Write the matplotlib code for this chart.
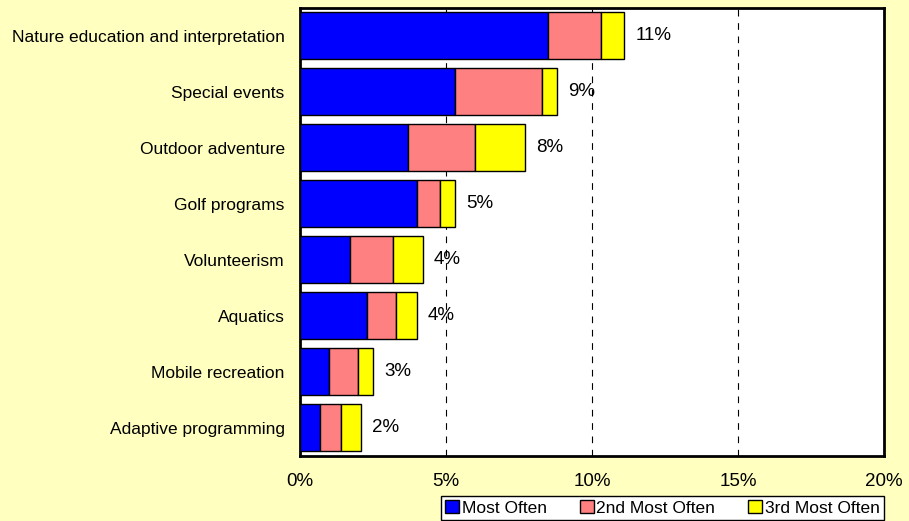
import matplotlib
matplotlib.use('Agg')
import matplotlib.pyplot as plt
import numpy as np
from matplotlib.ticker import FuncFormatter

plt.rcParams["font.family"] = ["Liberation Sans", "DejaVu Sans"]

categories = ['Nature education and interpretation', 'Special events', 'Outdoor adventure',
              'Golf programs', 'Volunteerism', 'Aquatics', 'Mobile recreation',
              'Adaptive programming']
most_often = [8.5, 5.3, 3.7, 4.0, 1.7, 2.3, 1.0, 0.7]
second_most = [1.8, 3.0, 2.3, 0.8, 1.5, 1.0, 1.0, 0.7]
third_most = [0.8, 0.5, 1.7, 0.5, 1.0, 0.7, 0.5, 0.7]
total_labels = ['11%', '9%', '8%', '5%', '4%', '4%', '3%', '2%']
series_names = ['Most Often', '2nd Most Often', '3rd Most Often']
colors = ['#0000FF', '#FF8080', '#FFFF00']

fig = plt.figure(figsize=(9.09, 5.21), dpi=100, facecolor='#FFFFC0')
ax = fig.add_axes([0.330, 0.125, 0.6425, 0.86])

y = np.arange(len(categories))
left = np.zeros(len(categories))
for vals, name, c in zip([most_often, second_most, third_most], series_names, colors):
    ax.barh(y, vals, left=left, height=0.84, color=c, edgecolor='black',
            linewidth=1, label=name, zorder=3)
    left = left + np.array(vals)

# total label next to each bar
for yi, tot, lab in zip(y, left, total_labels):
    ax.annotate(lab, (tot, yi), xytext=(8, 0), textcoords='offset points',
                va='center', ha='left', fontsize=13.5, zorder=4)

ax.set_ylim(len(categories) - 0.5, -0.5)
ax.set_xlim(0, 20)
ax.set_xticks([0, 5, 10, 15, 20])
ax.xaxis.set_major_formatter(FuncFormatter(lambda v, p: '{:.0f}%'.format(v)))
ax.set_yticks(y)
ax.set_yticklabels(categories, fontsize=12.5)
ax.tick_params(axis='x', labelsize=13.5, length=0, pad=12)
ax.tick_params(axis='y', length=0, pad=11)
ax.xaxis.grid(True, color='black', linestyle=(0, (6, 6)), linewidth=0.8)
ax.set_axisbelow(True)
for s in ax.spines.values():
    s.set_linewidth(2)

leg = ax.legend(loc='upper right', bbox_to_anchor=(1.0, -0.089), ncol=3, fontsize=12.5,
                frameon=True, fancybox=False, edgecolor='black', framealpha=1,
                handlelength=0.8, handleheight=0.8, handletextpad=0.15,
                columnspacing=1.9, borderpad=0.25, borderaxespad=0)
leg.get_frame().set_linewidth(1)

fig.savefig('out.png', dpi=100, facecolor=fig.get_facecolor())
